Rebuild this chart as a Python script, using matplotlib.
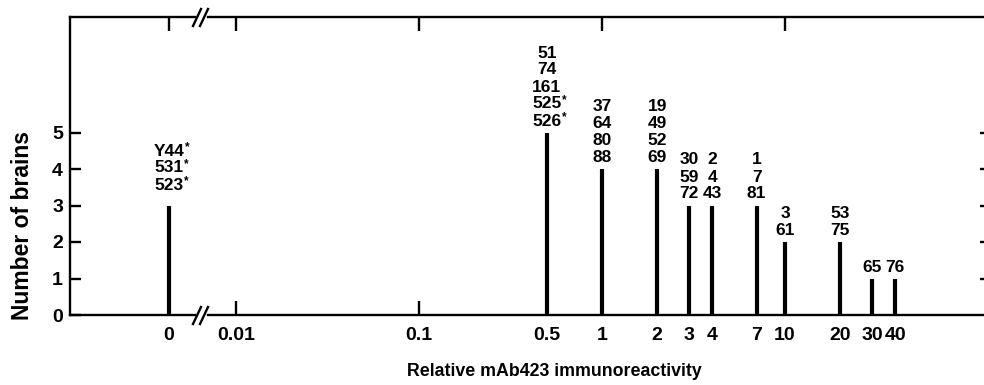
import matplotlib
matplotlib.use("Agg")
import matplotlib.pyplot as plt
from matplotlib.ticker import FixedLocator, NullFormatter, FixedFormatter
from matplotlib.lines import Line2D

plt.rcParams['font.family'] = ['Liberation Sans', 'DejaVu Sans']
plt.rcParams['font.weight'] = 'bold'

# ---- data ----
zero_count = 3
zero_labels = ["Y44*", "531*", "523*"]

immuno_values = [0.5, 1, 2, 3, 4, 7, 10, 20, 30, 40]
brain_counts = [5, 4, 4, 3, 3, 3, 2, 2, 1, 1]
brain_ids = [
    ["51", "74", "161", "525*", "526*"],
    ["37", "64", "80", "88"],
    ["19", "49", "52", "69"],
    ["30", "59", "72"],
    ["2", "4", "43"],
    ["1", "7", "81"],
    ["3", "61"],
    ["53", "75"],
    ["65"],
    ["76"],
]
xtick_values = [0.01, 0.1, 0.5, 1, 2, 3, 4, 7, 10, 20, 30, 40]
xtick_labels = ["0.01", "0.1", "0.5", "1", "2", "3", "4", "7", "10", "20", "30", "40"]
decade_ticks = [0.01, 0.1, 1, 10]
ytick_values = [0, 1, 2, 3, 4, 5]

W, H = 984, 385
fig = plt.figure(figsize=(W / 100, H / 100), dpi=100)

def fx(px):
    return px / W

def fy(py):
    return 1 - py / H

PX2PT = 72 / 100

y_top, y_bot = 17, 315
ax_b = fy(y_bot)
ax_h = (y_bot - y_top) / H
ymax = (y_bot - y_top) / 36.5

ax1 = fig.add_axes([fx(70), ax_b, fx(195 - 70), ax_h])
ax2 = fig.add_axes([fx(208), ax_b, fx(984 - 208), ax_h])

LW_SP = 1.7
for ax in (ax1, ax2):
    ax.set_ylim(0, ymax)
    for s in ax.spines.values():
        s.set_linewidth(LW_SP)
    ax.patch.set_alpha(0)

ax1.spines['right'].set_visible(False)
ax2.spines['left'].set_visible(False)
ax2.spines['right'].set_visible(False)

LABEL_FS = 12.5
STAR_FS = 8.5
BAR_LW = 3.0
LINE_STEP_PX = 17

def stack_labels(ax, x, top, lines, gap_px):
    n = len(lines)
    for i, line in enumerate(lines):
        k = n - 1 - i  # index from bottom
        star = line.endswith("*")
        base = line.rstrip("*")
        t = ax.annotate(base, (x, top), xytext=(0, (gap_px + k * LINE_STEP_PX) * PX2PT),
                        textcoords='offset points', ha='center', va='baseline',
                        fontsize=LABEL_FS, fontweight='bold')
        if star:
            ax.annotate("*", xy=(1.0, 1.0), xycoords=t, xytext=(0.2, 1.6),
                        textcoords='offset points', ha='left', va='top',
                        fontsize=STAR_FS, fontweight='bold')

# zero bar
ax1.set_xlim(-1, 0.2626)
ax1.vlines([0], 0, [zero_count], color='black', lw=BAR_LW)
stack_labels(ax1, 0, zero_count, zero_labels, 16)
ax1.set_xticks([0])
ax1.set_xticklabels(["0"])
ax1.set_yticks(ytick_values)
ax1.tick_params(axis='x', which='both', direction='in', length=10, width=LW_SP,
                top=True, bottom=True, labelsize=14, pad=9)
ax1.tick_params(axis='y', direction='in', length=8, width=LW_SP, labelsize=14, pad=5)

# log part
ax2.set_xscale('log')
ax2.set_xlim(0.00703, 122.3)
ax2.vlines(immuno_values, 0, brain_counts, color='black', lw=BAR_LW)
for xv, c, ids in zip(immuno_values, brain_counts, brain_ids):
    stack_labels(ax2, xv, c, ids, 7)

ax2.xaxis.remove_overlapping_locs = False
ax2.xaxis.set_major_locator(FixedLocator(xtick_values))
ax2.xaxis.set_major_formatter(FixedFormatter(xtick_labels))
ax2.xaxis.set_minor_locator(FixedLocator(decade_ticks))
ax2.xaxis.set_minor_formatter(NullFormatter())
ax2.tick_params(axis='x', which='major', length=0, labelsize=14, pad=9)
ax2.tick_params(axis='x', which='minor', direction='in', length=10, width=LW_SP,
                top=True, bottom=True)
ax2.set_yticks([1, 2, 3, 4, 5])
ax2.yaxis.set_minor_locator(FixedLocator([]))
ax2.tick_params(axis='y', which='both', left=False, labelleft=False, right=True,
                direction='in', length=3, width=LW_SP)

# axis break marks
for ybase in (y_top, y_bot):
    for dx in (0, 7):
        x0 = 197 + dx
        fig.add_artist(Line2D([fx(x0 - 4), fx(x0 + 4)], [fy(ybase + 9), fy(ybase - 8)],
                              color='black', lw=1.7, transform=fig.transFigure))

fig.text(fx(23), fy(225), "Number of brains", rotation=90, ha='center', va='center',
         fontsize=16.5, fontweight='bold')
fig.text(fx(554), fy(371), "Relative mAb423 immunoreactivity", ha='center', va='center',
         fontsize=12.8, fontweight='bold')

fig.savefig("out.png", dpi=100)
